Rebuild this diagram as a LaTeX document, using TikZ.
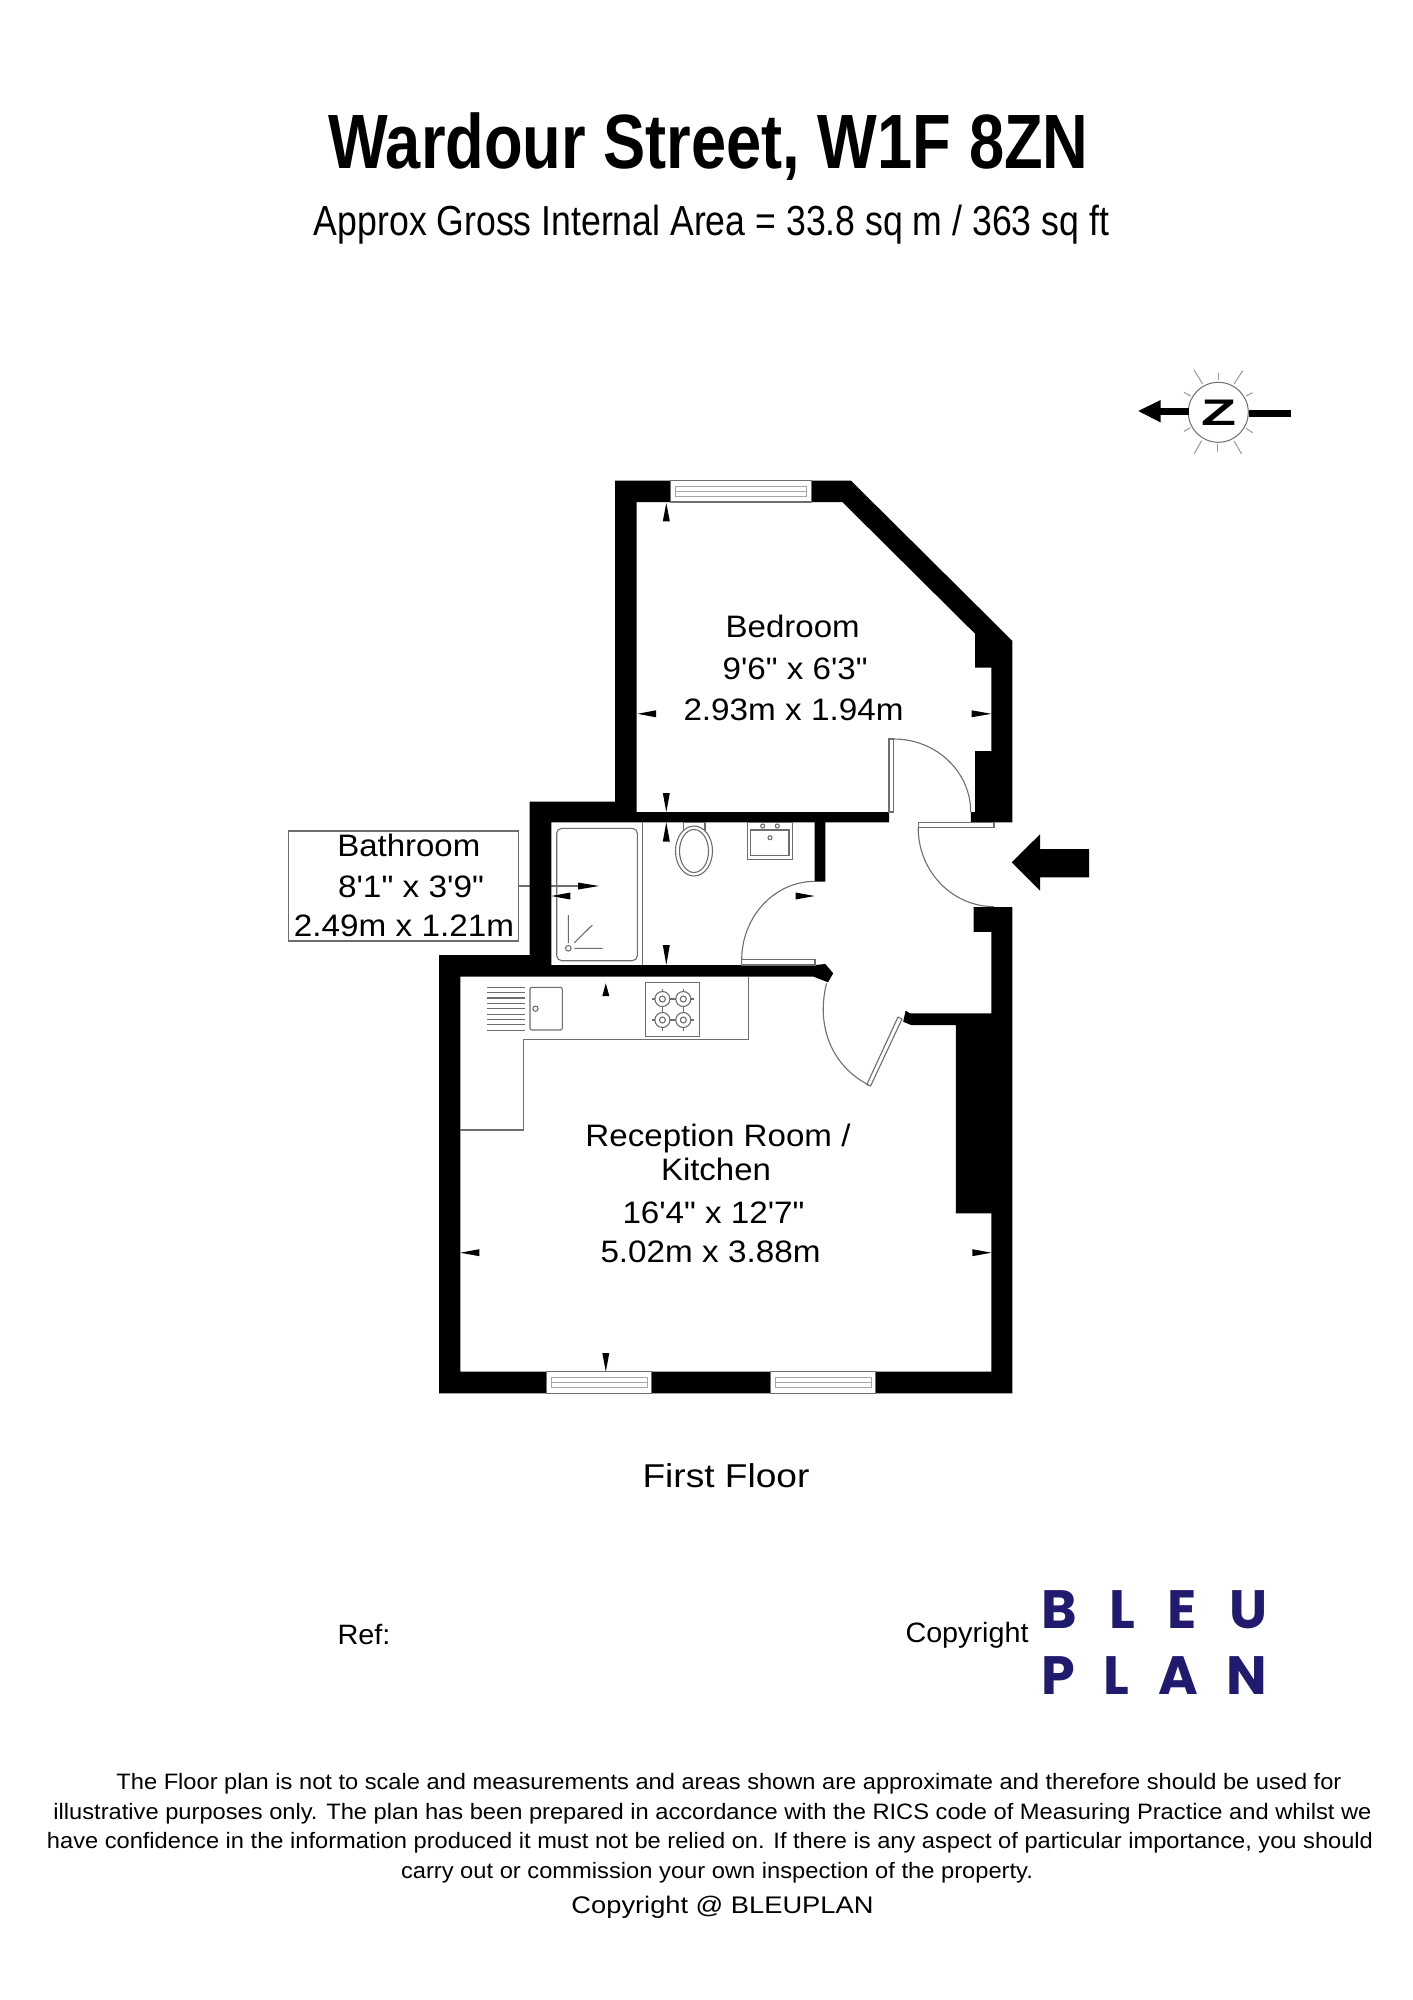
\documentclass[tikz,border=0pt]{standalone}
\usepackage{graphicx}
\usepackage{fontspec}
\setmainfont[Ligatures=TeXOff]{Liberation Sans}
\newfontfamily\logofont{Poppins}
\definecolor{planline}{HTML}{6E6E6E}
\definecolor{logoblue}{HTML}{201B6E}
\newcommand\plantext[6]{\node[anchor=base,inner sep=0pt,outer sep=0pt] (#1) at (#2,#3) {\fontsize{#4}{#4}\selectfont\resizebox{#5pt}{\height}{#6}};}
\tikzset{
  fixture/.style={draw=planline,line width=1.1pt},
  wall/.style={fill=black,draw=none},
  windowframe/.style={draw=planline,line width=1.1pt,fill=white},
  dimtip/.style={fill=black,draw=none},
  ray/.style={draw=gray!80,line width=1pt},
}
\begin{document}
\begin{tikzpicture}[x=1pt,y=-1pt]
\useasboundingbox (0,0) rectangle (1413,2000);
\fill[white] (0,0) rectangle (1413,2000);

% titles
\plantext{title}{708.5}{168}{77}{760}{\bfseries Wardour Street, W1F 8ZN}
\plantext{area}{711.5}{235}{42}{795}{Approx Gross Internal Area = 33.8 sq m / 363 sq ft}

% compass
\node[circle,draw=planline,line width=1pt,minimum size=60pt,inner sep=0pt] (compass) at (1218.3,412.3) {};
\plantext{compassz}{1219.2}{425.7}{37}{35}{\bfseries Z}
\draw[line width=7.3pt] (compass.west |- 0,411.3) ++(1,0) -- (1159,411.3);
\fill (1138.3,411) -- (1160.7,400) -- (1160.7,422.5) -- cycle;
\draw[line width=7.7pt] (1249,413.5) -- (1290.7,413.5);
\foreach \xa/\ya/\xb/\yb in {222/30/248/72,296/38/296/60,368/32/342/72,192/97/212/108,398/98/378/108,192/214/212/203,398/218/378/205,222/282/245/242,293/275/293/253,365/282/342/243}
  \draw[ray] ({1120+\xa/3},{360+\ya/3}) -- ({1120+\xb/3},{360+\yb/3});

% bathroom label box and leader
\node[draw=planline,line width=1.1pt,minimum width=230pt,minimum height=110pt,inner sep=0pt] (bathbox) at (403.3,886) {};
\coordinate (leaderend) at (580,886);
\draw[fixture] (bathbox.east) -- (leaderend);

% walls
\path[wall] (1012.3,822.3) -- (1012.3,640.8) -- (851,480.7) -- (615,480.7) -- (615,801.6) -- (529.5,801.6) -- (529.5,955) -- (439,955) -- (439,1393.3) -- (1012.3,1393.3) -- (1012.3,907) -- (973.6,907) -- (973.6,931.8) -- (991.4,931.8) -- (991.4,1013.3) -- (910,1013.3) -- (905.6,1010.7) -- (903.2,1021.7) -- (911,1025) -- (955.8,1025) -- (955.8,1213.3) -- (991.4,1213.3) -- (991.4,1371.7) -- (460.3,1371.7) -- (460.3,976.7) -- (813.4,976.6) -- (828,982.3) -- (833.2,973.3) -- (825.3,964) -- (815,965) -- (551.3,965.2) -- (551.3,822.3) -- (814.6,822.3) -- (814.6,881.5) -- (825.3,881.5) -- (825.3,822.3) -- (889,822.3) -- (889,812) -- (636.7,812) -- (636.7,502) -- (842.3,502) -- (975.2,633.9) -- (975.2,667.6) -- (991.4,667.6) -- (991.4,751) -- (975.2,751) -- (975.2,812) -- (970.8,812) -- (970.8,822.3) -- cycle;

% windows
\draw[windowframe] (670.3,480.7) rectangle (811.5,502);
\draw[draw=gray!70,line width=1pt] (675,486.5) rectangle (806.7,496) (675,491) -- (806.7,491);
\foreach \xa/\xb in {546.5/651.7,770.3/875.5} {
  \draw[windowframe] (\xa,1371.7) rectangle (\xb,1393.3);
  \draw[draw=gray!70,line width=1pt] ({\xa+5},1377.7) rectangle ({\xb-4},1387.3) ({\xa+5},1382.7) -- ({\xb-4},1382.7);
}

% doors
\draw[fixture] (889,739) rectangle (893.7,812);
\draw[fixture] (893.7,739) arc[start angle=-90,end angle=0,x radius=77,y radius=73];
\draw[fixture] (918.2,822.3) rectangle (994,827.8);
\draw[fixture] (918.2,827.8) arc[start angle=180,end angle=90,x radius=75.8,y radius=78.8];
\draw[fixture] (741.7,959.3) rectangle (815,965);
\draw[fixture] (815,881.3) arc[start angle=-90,end angle=-180,x radius=73.3,y radius=78.7];
\draw[fixture] (902,1019) -- (898,1017) -- (866.8,1084.5) -- (870.6,1086) -- cycle;
\draw[fixture] (868.8,1085) .. controls (835,1068) and (815,1030) .. (826.5,983.3);

% bathroom fixtures
\draw[fixture] (642.3,822.3) -- (642.3,965.2);
\draw[fixture,rounded corners=5pt] (556.7,828.3) rectangle (637.3,960.7);
\draw[fixture] (568.3,948.3) circle[radius=2.8];
\draw[fixture] (568.3,915) -- (568.3,943) (574.3,948.3) -- (602.7,948.3) (574.3,942.7) -- (592.3,925);
\draw[fixture] (683.3,822.5) rectangle (705,830);
\draw[fixture,fill=white] (694,851) ellipse[x radius=18.5,y radius=25];
\draw[fixture] (694,851) ellipse[x radius=14.5,y radius=21.5];
\draw[fixture] (747.3,822.5) rectangle (792.3,859.3);
\draw[fixture] (750.7,830) rectangle (789,855.7);
\draw[fixture] (762.7,826) circle[radius=2] (777.3,826) circle[radius=2] (770,837.7) circle[radius=2];

% kitchen fixtures
\draw[fixture] (748.6,976.7) -- (748.6,1039.3) -- (523.2,1039.3) -- (523.2,1130) -- (460.3,1130);
\draw[fixture] (645.8,982.7) rectangle (699.6,1036.7);
\foreach \bx in {662.4,683.3} \foreach \by in {999,1020} {
  \draw[fixture] (\bx,\by) circle[radius=7.5] (\bx,\by) circle[radius=3];
  \draw[fixture] ({\bx-10.5},\by) -- ({\bx-7.5},\by) ({\bx+7.5},\by) -- ({\bx+10.5},\by) (\bx,{\by-10.5}) -- (\bx,{\by-7.5}) (\bx,{\by+7.5}) -- (\bx,{\by+10.5});
}
\draw[fixture,rounded corners=2pt] (530,987.3) rectangle (562.3,1030);
\draw[fixture] (535.5,1008.7) circle[radius=2.6];
\foreach \i in {0,...,8} \draw[fixture] (487.2,{987.3+\i*5.35}) -- (524.8,{987.3+\i*5.35});

% dimension tips: vertical
\foreach \tx/\ty/\by in {666.3/503/521.3,666.3/812/793,666.3/822.3/841.5,666.3/965/945,605.8/983.3/996,605.8/1371.7/1353}
  \path[dimtip] (\tx,\ty) -- ({\tx-3.5},\by) -- ({\tx+3.5},\by) -- cycle;
% dimension tips: horizontal
\foreach \tx/\ty/\bx in {637.5/713.8/656,991.4/713.8/971.6,551.3/896/570.3,814.6/896/795.6,599/886/578,460.3/1252.7/479.3,991.4/1252.7/972.4}
  \path[dimtip] (\tx,\ty) -- (\bx,{\ty-3.5}) -- (\bx,{\ty+3.5}) -- cycle;

% entrance arrow
\fill (1011.7,862.3) -- (1040,834.3) -- (1040,849) -- (1089,849) -- (1089,877.3) -- (1040,877.3) -- (1040,890.7) -- cycle;

% room labels
\plantext{bed1}{792.7}{637.3}{31}{134}{Bedroom}
\plantext{bed2}{795.2}{679.7}{31}{145}{9'6" x 6'3"}
\plantext{bed3}{793.5}{720}{31}{220}{2.93m x 1.94m}
\plantext{bath1}{408.8}{856.7}{31}{143}{Bathroom}
\plantext{bath2}{411}{897.3}{31}{146}{8'1" x 3'9"}
\plantext{bath3}{404}{936.7}{31}{220}{2.49m x 1.21m}
\plantext{rec1}{718}{1146.7}{31}{265}{Reception Room /}
\plantext{rec2}{716}{1180.7}{31}{110}{Kitchen}
\plantext{rec3}{713.5}{1223}{31}{182}{16'4" x 12'7"}
\plantext{rec4}{710.5}{1262.7}{31}{220}{5.02m x 3.88m}

% floor and footer
\plantext{floor}{726}{1487.5}{33}{167}{First Floor}
\plantext{ref}{364}{1644}{28}{53}{Ref:}
\plantext{copy}{967}{1642}{28}{123}{Copyright}
\node[anchor=base,inner sep=0pt,text=logoblue] (logo1) at (1154.6,1628.3) {\logofont\bfseries\fontsize{54}{54}\selectfont\hbox to 226pt{B\hfill L\hfill E\hfill U}};
\node[anchor=base,inner sep=0pt,text=logoblue] (logo2) at (1154.6,1694) {\logofont\bfseries\fontsize{54}{54}\selectfont\hbox to 226pt{P\hfill L\hfill A\hfill N}};
\plantext{foot1}{729}{1789.3}{22.3}{1225}{The Floor plan is not to scale and measurements and areas shown are approximate and therefore should be used for}
\plantext{foot2}{712.5}{1819.3}{22.3}{1318}{illustrative purposes only. The plan has been prepared in accordance with the RICS code of Measuring Practice and whilst we}
\plantext{foot3}{710}{1848.3}{22.3}{1326}{have confidence in the information produced it must not be relied on. If there is any aspect of particular importance, you should}
\plantext{foot4}{717}{1878.3}{22.3}{632}{carry out or commission your own inspection of the property.}
\plantext{foot5}{722.5}{1913.3}{24}{302}{Copyright @ BLEUPLAN}
\end{tikzpicture}
\end{document}
